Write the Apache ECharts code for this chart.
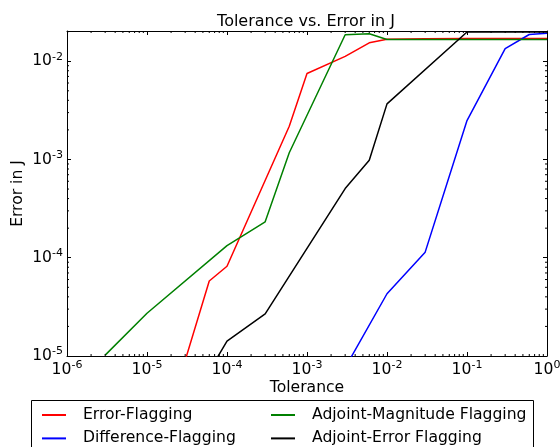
<!DOCTYPE html>
<html>
<head>
<meta charset="utf-8">
<script src="https://cdn.jsdelivr.net/npm/echarts@6/dist/echarts.min.js"></script>
<style>
  html, body { margin: 0; padding: 0; background: #fff; }
  #main { width: 560px; height: 447px; }
</style>
</head>
<body>
<div id="main"></div>
<script>
// 数据：数值
var errorFlagX = [3e-5, 6e-5, 1e-4, 6e-4, 1e-3, 3e-3, 6e-3, 1e-2, 3e-2, 1e-1, 3e-1, 6e-1, 1];
var errorFlagY = [9.0e-6, 5.8e-5, 8.2e-5, 2.18e-3, 7.5e-3, 1.12e-2, 1.54e-2, 1.67e-2, 1.69e-2, 1.70e-2, 1.70e-2, 1.70e-2, 1.70e-2];

var diffFlagX = [3e-3, 1e-2, 3e-2, 1e-1, 3e-1, 6e-1, 1];
var diffFlagY = [7.6e-6, 4.3e-5, 1.14e-4, 2.49e-3, 1.34e-2, 1.87e-2, 1.93e-2];

var adjMagX = [3e-6, 1e-5, 1e-4, 3e-4, 6e-4, 3e-3, 6e-3, 1e-2, 1e-1, 1];
var adjMagY = [1.02e-5, 2.72e-5, 1.33e-4, 2.32e-4, 1.17e-3, 1.86e-2, 1.90e-2, 1.66e-2, 1.66e-2, 1.66e-2];

var adjErrX = [6e-5, 1e-4, 3e-4, 3e-3, 6e-3, 1e-2, 1e-1, 3e-1, 1];
var adjErrY = [7.0e-6, 1.42e-5, 2.68e-5, 5.06e-4, 9.8e-4, 3.68e-3, 1.98e-2, 1.98e-2, 1.98e-2];

var xMin = 1e-6, xMax = 1;
var yMin = 1e-5, yMax = 0.0203;

var xMinorTicks = [];
var yMinorTicks = [];
for (var e = -6; e < 0; e++) {
  for (var k = 2; k <= 9; k++) xMinorTicks.push(k * Math.pow(10, e));
}
for (var e2 = -5; e2 < -1; e2++) {
  for (var k2 = 2; k2 <= 9; k2++) {
    var v = k2 * Math.pow(10, e2);
    if (v < yMax) yMinorTicks.push(v);
  }
}

function zip(xs, ys) {
  var out = [];
  for (var i = 0; i < xs.length; i++) out.push([xs[i], ys[i]]);
  return out;
}

var font = 'DejaVu Sans';

function powLabel(val) {
  var p = Math.log10(val);
  var n = Math.round(p);
  if (Math.abs(p - n) > 1e-6) return '';
  return '{b|10}{s|' + n + '}';
}

var labelRich = {
  b: { fontSize: 15.6, fontFamily: font, color: '#000', lineHeight: 20 },
  s: { fontSize: 11, fontFamily: font, color: '#000', lineHeight: 11, verticalAlign: 'top' }
};

var myChart = echarts.init(document.getElementById('main'));

function lineSeries(name, color, xs, ys) {
  return {
    name: name,
    type: 'line',
    data: zip(xs, ys),
    showSymbol: false,
    symbol: 'none',
    lineStyle: { color: color, width: 1.5 },
    itemStyle: { color: color },
    clip: true,
    z: 3
  };
}

function legendCol(left, names) {
  return {
    orient: 'vertical',
    left: left,
    top: 407,
    padding: 0,
    itemWidth: 24,
    itemHeight: 2,
    itemGap: 7.4,
    icon: 'rect',
    data: names,
    textStyle: { fontFamily: font, fontSize: 15.6, color: '#000', lineHeight: 16, padding: [0, 0, 0, 12] }
  };
}

var option = {
  animation: false,
  backgroundColor: '#fff',
  title: {
    text: 'Tolerance vs. Error in J',
    left: 306,
    textAlign: 'center',
    top: 14,
    padding: 0,
    textStyle: { fontFamily: font, fontSize: 16, fontWeight: 'normal', color: '#000' }
  },
  grid: { left: 67, right: 13, top: 31, bottom: 91, containLabel: false, outerBoundsMode: 'none' },
  xAxis: [
    {
      type: 'log',
      min: xMin,
      max: xMax,
      position: 'bottom',
      name: 'Tolerance',
      nameLocation: 'middle',
      nameGap: 24,
      nameMoveOverlap: false,
      nameTextStyle: { fontFamily: font, fontSize: 15.6, color: '#000' },
      axisLine: { lineStyle: { color: '#000', width: 1 } },
      axisTick: { inside: true, length: 4, lineStyle: { color: '#000' } },
      axisLabel: { margin: 4, formatter: powLabel, rich: labelRich },
      splitLine: { show: false }
    },
    {
      type: 'log',
      min: xMin,
      max: xMax,
      position: 'top',
      axisLine: { lineStyle: { color: '#000', width: 1 } },
      axisTick: { inside: true, length: 4, lineStyle: { color: '#000' } },
      axisLabel: { show: false },
      splitLine: { show: false }
    }
  ],
  yAxis: [
    {
      type: 'log',
      min: yMin,
      max: yMax,
      position: 'left',
      name: 'Error in J',
      nameLocation: 'middle',
      nameGap: 41,
      nameMoveOverlap: false,
      nameTextStyle: { fontFamily: font, fontSize: 15.6, color: '#000' },
      axisLine: { lineStyle: { color: '#000', width: 1 } },
      axisTick: { inside: true, length: 4, lineStyle: { color: '#000' } },
      axisLabel: { margin: 4, formatter: powLabel, rich: labelRich, showMaxLabel: false },
      splitLine: { show: false }
    },
    {
      type: 'log',
      min: yMin,
      max: yMax,
      position: 'right',
      axisLine: { lineStyle: { color: '#000', width: 1 } },
      axisTick: { inside: true, length: 4, lineStyle: { color: '#000' } },
      axisLabel: { show: false },
      splitLine: { show: false }
    }
  ],
  legend: [
    legendCol(42, ['Error-Flagging', 'Difference-Flagging']),
    legendCol(271, ['Adjoint-Magnitude Flagging', 'Adjoint-Error Flagging'])
  ],
  graphic: [
    {
      type: 'rect',
      shape: { x: 31.5, y: 400.5, width: 502, height: 60 },
      style: { fill: 'none', stroke: '#000', lineWidth: 1 },
      silent: true
    }
  ],
  series: [
    lineSeries('Error-Flagging', '#ff0000', errorFlagX, errorFlagY),
    lineSeries('Difference-Flagging', '#0000ff', diffFlagX, diffFlagY),
    lineSeries('Adjoint-Magnitude Flagging', '#008000', adjMagX, adjMagY),
    lineSeries('Adjoint-Error Flagging', '#000000', adjErrX, adjErrY),
    {
      type: 'custom',
      name: 'xMinor',
      silent: true,
      data: xMinorTicks.map(function (t) { return [t, yMin]; }),
      renderItem: function (params, api) {
        var b = api.coord([api.value(0), yMin]);
        var t = api.coord([api.value(0), yMax]);
        return {
          type: 'group',
          children: [
            { type: 'line', shape: { x1: b[0], y1: b[1], x2: b[0], y2: b[1] - 2 }, style: { stroke: '#000', lineWidth: 1 } },
            { type: 'line', shape: { x1: t[0], y1: t[1], x2: t[0], y2: t[1] + 2 }, style: { stroke: '#000', lineWidth: 1 } }
          ]
        };
      },
      z: 4
    },
    {
      type: 'custom',
      name: 'yMinor',
      silent: true,
      data: yMinorTicks.map(function (t) { return [xMin, t]; }),
      renderItem: function (params, api) {
        var l = api.coord([xMin, api.value(1)]);
        var r = api.coord([xMax, api.value(1)]);
        return {
          type: 'group',
          children: [
            { type: 'line', shape: { x1: l[0], y1: l[1], x2: l[0] + 2, y2: l[1] }, style: { stroke: '#000', lineWidth: 1 } },
            { type: 'line', shape: { x1: r[0], y1: r[1], x2: r[0] - 2, y2: r[1] }, style: { stroke: '#000', lineWidth: 1 } }
          ]
        };
      },
      z: 4
    }
  ]
};

myChart.setOption(option);
</script>
</body>
</html>
